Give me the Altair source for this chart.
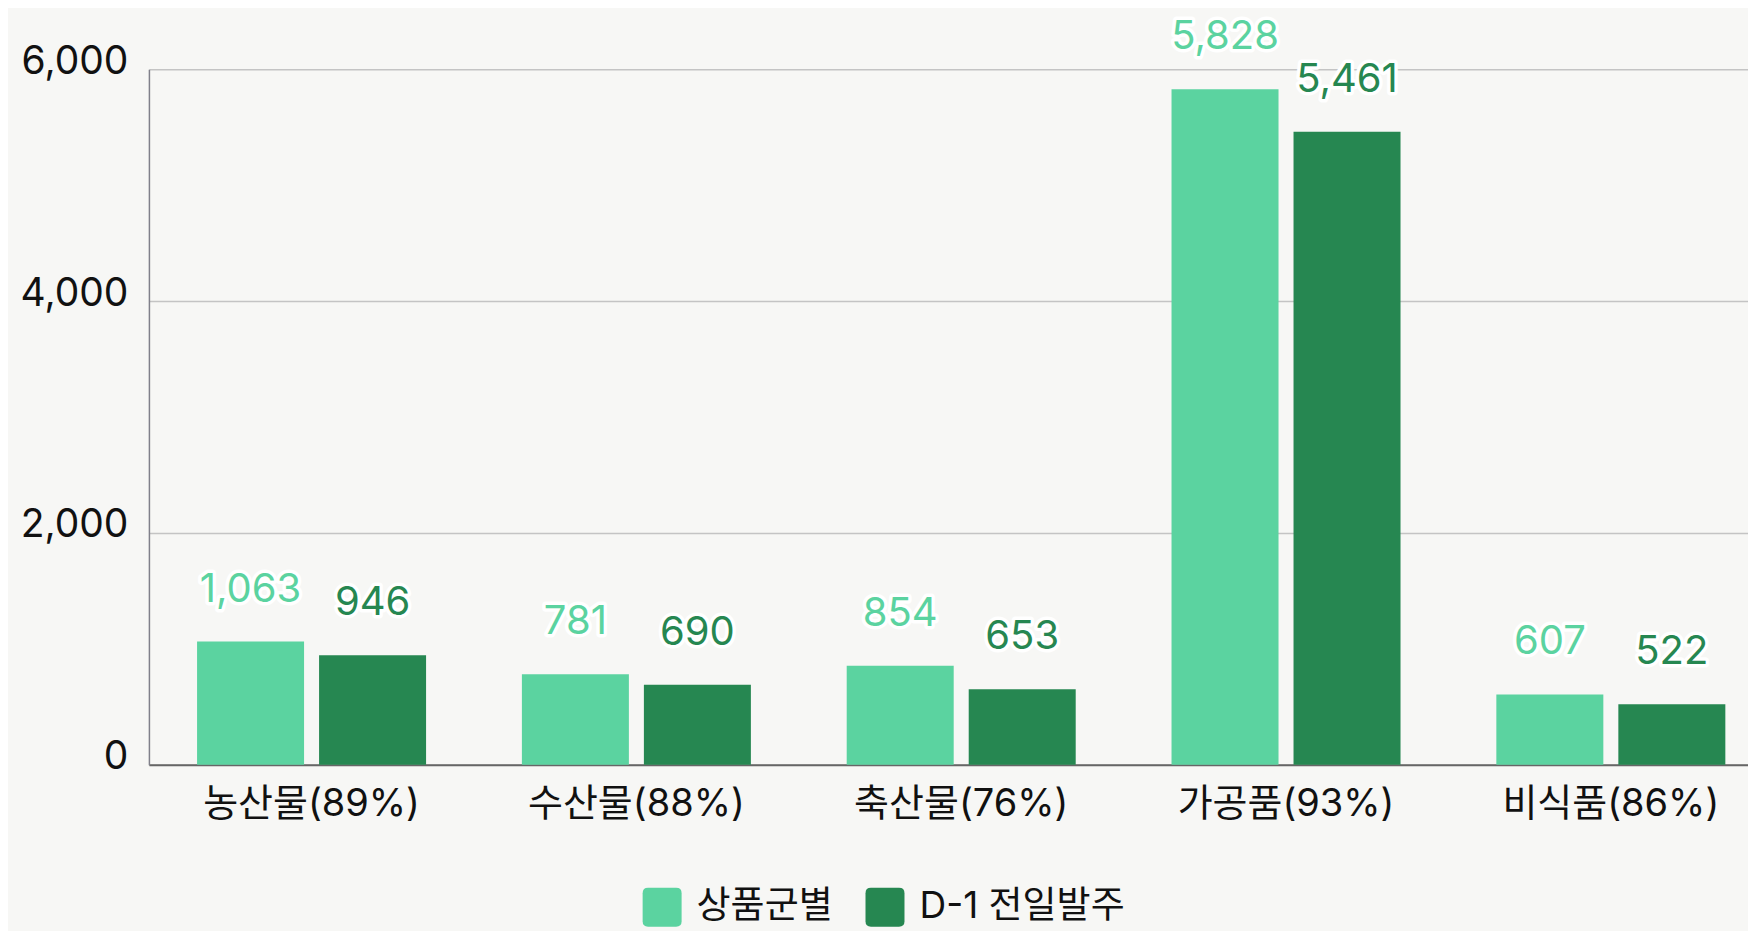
import altair as alt
import pandas as pd

categories = ["농산물(89%)", "수산물(88%)", "축산물(76%)", "가공품(93%)", "비식품(86%)"]
series = ["상품군별", "D-1 전일발주"]
values_group = [1063, 781, 854, 5828, 607]
values_d1 = [946, 690, 653, 5461, 522]
colors = ["#5BD3A0", "#268751"]
y_ticks = [0, 2000, 4000, 6000]

rows = []
for i, c in enumerate(categories):
    rows.append({"cat": c, "series": series[0], "value": values_group[i]})
    rows.append({"cat": c, "series": series[1], "value": values_d1[i]})
df = pd.DataFrame(rows)

FONT = "Inter, 'Noto Sans CJK KR', sans-serif"
ROUNDED = "M-0.72,-1 L0.72,-1 Q1,-1 1,-0.72 L1,0.72 Q1,1 0.72,1 L-0.72,1 Q-1,1 -1,0.72 L-1,-0.72 Q-1,-1 -0.72,-1 Z"

x = alt.X(
    "cat:N", sort=categories,
    scale=alt.Scale(paddingInner=0.295, paddingOuter=0.109, align=0.68),
    axis=alt.Axis(title=None, labelAngle=0, labelFontSize=38, labelFont=FONT,
                  labelColor="#111111", labelPadding=21, ticks=False, labelLimit=0,
                  domainColor="#666666", domainWidth=2, grid=False),
)
xo = alt.XOffset("series:N", sort=series, scale=alt.Scale(paddingInner=0.123, paddingOuter=0))
y = alt.Y(
    "value:Q", scale=alt.Scale(domain=[0, 6000], nice=False),
    axis=alt.Axis(title=None, values=y_ticks, format=",.0f", labelFontSize=39, labelFont=FONT,
                  labelColor="#111111", labelPadding=21, ticks=False,
                  domainColor="#80808a", domainWidth=1.5,
                  gridColor="#c4c4c4", gridWidth=1.5, labelOffset=-8),
)
color = alt.Color(
    "series:N", sort=series,
    scale=alt.Scale(domain=series, range=colors),
    legend=alt.Legend(orient="none", legendX=494, legendY=819, direction="horizontal",
                      title=None, symbolType=ROUNDED, symbolSize=1521,
                      labelFontSize=37, labelFont=FONT, labelColor="#111111",
                      labelOffset=15, columnPadding=32, symbolStrokeWidth=0,
                      padding=0, labelLimit=0),
)

base = alt.Chart(df)
bars = base.mark_bar().encode(x=x, xOffset=xo, y=y, color=color)
halo = base.mark_text(stroke="white", strokeWidth=7, strokeJoin="round", fill="white",
                      dy=-40, baseline="alphabetic", fontSize=40, font=FONT).encode(
    x=x, xOffset=xo, y=y, text=alt.Text("value:Q", format=","))
labels = base.mark_text(dy=-40, baseline="alphabetic", fontSize=40, font=FONT).encode(
    x=x, xOffset=xo, y=y, text=alt.Text("value:Q", format=","), color=color)

chart = alt.layer(bars, halo, labels).properties(
    width=1600, height=696, autosize="none",
    padding={"left": 141, "top": 61, "right": 0, "bottom": 166},
    background="#f7f7f5",
).configure_view(stroke=None)

chart.save("out.html", embed_options={"renderer": "svg", "actions": False})
